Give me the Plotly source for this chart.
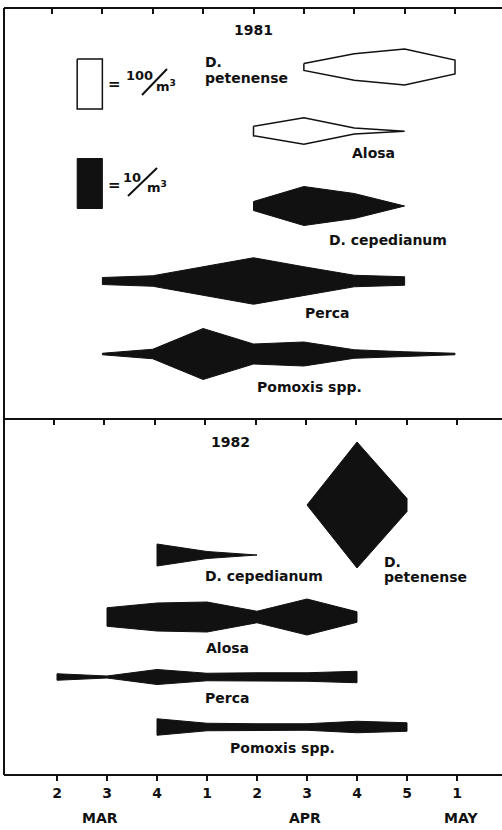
import plotly.graph_objects as go

W, H = 502, 830

# ---------------- data ----------------
# week index 0..8  ->  Mar 2, Mar 3, Mar 4, Apr 1, Apr 2, Apr 3, Apr 4, Apr 5, May 1
week_index = [0, 1, 2, 3, 4, 5, 6, 7, 8]
week_labels = ['2', '3', '4', '1', '2', '3', '4', '5', '1']
month_labels = ['MAR', 'APR', 'MAY']
month_pos = [0.86, 4.96, 8.08]

# 1981 densities (per m^3)
pet81_weeks = [5, 6, 7, 8]
pet81_vals = [14, 53, 72, 28]            # open scale
alo81_weeks = [4, 5, 6, 7]
alo81_vals = [19, 53, 12, 1]             # open scale
cep81_weeks = [4, 5, 6, 7]
cep81_vals = [1.8, 7.8, 5.0, 0]
per81_weeks = [1, 2, 3, 4, 5, 6, 7]
per81_vals = [1.4, 2.1, 5.7, 9.3, 5.7, 2.3, 1.7]
pom81_weeks = [1, 2, 3, 4, 5, 6, 7, 8]
pom81_vals = [0.3, 1.9, 10.2, 4.0, 4.8, 1.7, 0.9, 0.3]

# 1982 densities (per m^3)
pet82_weeks = [5, 6, 7]
pet82_vals = [0, 25.2, 2.6]
cep82_weeks = [2, 3, 4]
cep82_vals = [4.4, 1.4, 0]
alo82_weeks = [1, 2, 3, 4, 5, 6]
alo82_vals = [3.7, 5.6, 6.0, 2.3, 7.2, 2.1]
per82_weeks = [0, 1, 2, 3, 4, 5, 6]
per82_vals = [1.3, 0.4, 3.0, 1.5, 1.7, 1.7, 2.3]
pom82_weeks = [2, 3, 4, 5, 6, 7]
pom82_vals = [3.3, 1.5, 1.3, 1.3, 2.3, 1.7]

# legend scale boxes
legend_weeks = [0.5, 1.0]
legend_open_vals = [100, 100]
legend_fill_vals = [10, 10]

# ---------------- styling / layout ----------------
INK = '#111111'
OPEN_SCALE = 0.5    # kite width (row units) per 1/m^3, open kites
FILL_SCALE = 5.0    # kite width per 1/m^3, filled kites
FONT = 'DejaVu Sans'

LEFT, TOP, SEP, BOTTOM = 4, 8, 419, 775


def kite(weeks, vals, base, scale, filled, xaxis):
    half = [v * scale / 2 for v in vals]
    xs = list(weeks) + list(reversed(weeks)) + [weeks[0]]
    ys = [base - h for h in half] + [base + h for h in reversed(half)] + [base - half[0]]
    return go.Scatter(
        x=xs, y=ys, mode='lines', fill='toself',
        fillcolor=INK if filled else 'white',
        line=dict(color=INK, width=1 if filled else 1.5),
        xaxis=xaxis, yaxis='y', hoverinfo='skip', showlegend=False,
    )


fig = go.Figure()
# 1981 (top panel, axis x2)
fig.add_trace(kite(legend_weeks, legend_open_vals, 84, OPEN_SCALE, False, 'x2'))
fig.add_trace(kite(legend_weeks, legend_fill_vals, 183.5, FILL_SCALE, True, 'x2'))
fig.add_trace(kite(pet81_weeks, pet81_vals, 67, OPEN_SCALE, False, 'x2'))
fig.add_trace(kite(alo81_weeks, alo81_vals, 131, OPEN_SCALE, False, 'x2'))
fig.add_trace(kite(cep81_weeks, cep81_vals, 206, FILL_SCALE, True, 'x2'))
fig.add_trace(kite(per81_weeks, per81_vals, 281, FILL_SCALE, True, 'x2'))
fig.add_trace(kite(pom81_weeks, pom81_vals, 354, FILL_SCALE, True, 'x2'))
# 1982 (bottom panel, axis x)
fig.add_trace(kite(pet82_weeks, pet82_vals, 505, FILL_SCALE, True, 'x'))
fig.add_trace(kite(cep82_weeks, cep82_vals, 555, FILL_SCALE, True, 'x'))
fig.add_trace(kite(alo82_weeks, alo82_vals, 617, FILL_SCALE, True, 'x'))
fig.add_trace(kite(per82_weeks, per82_vals, 677, FILL_SCALE, True, 'x'))
fig.add_trace(kite(pom82_weeks, pom82_vals, 727, FILL_SCALE, True, 'x'))
# invisible carrier for the separator axis
fig.add_trace(go.Scatter(x=[0], y=[None], mode='markers', xaxis='x3', yaxis='y',
                         showlegend=False, hoverinfo='skip'))


def axis_range(px0, step):
    return [(LEFT - px0) / step, (W - px0) / step]


dom = [LEFT / W, 1]
common = dict(domain=dom, showgrid=False, zeroline=False, showline=True,
              linecolor=INK, linewidth=2, tickvals=week_index,
              tickcolor=INK, tickwidth=2, ticklen=5, automargin=False,
              fixedrange=True)

fig.update_layout(
    width=W, height=H, margin=dict(l=0, r=0, t=0, b=0),
    paper_bgcolor='white', plot_bgcolor='rgba(0,0,0,0)',
    showlegend=False,
    xaxis=dict(**common, range=axis_range(57, 50), anchor='free',
               position=1 - BOTTOM / H, side='bottom', ticks='outside',
               ticktext=['<b>%s</b>' % t for t in week_labels],
               tickfont=dict(family=FONT, size=14, color=INK)),
    xaxis2=dict(**common, range=axis_range(52, 50.375), anchor='free',
                position=1 - TOP / H, side='top', ticks='inside',
                overlaying='x', showticklabels=False),
    xaxis3=dict(**common, range=axis_range(54, 50.4), anchor='free',
                position=1 - SEP / H, side='top', ticks='inside',
                overlaying='x', showticklabels=False),
    yaxis=dict(domain=[1 - BOTTOM / H, 1 - TOP / H], range=[BOTTOM, TOP],
               anchor='free', position=LEFT / W, showline=True, linecolor=INK,
               linewidth=2, showgrid=False, zeroline=False, showticklabels=False,
               ticks='', automargin=False, fixedrange=True),
)


def px(x):
    return x / W


def py(y):
    return 1 - y / H


texts = [
    # (text, x, y, xanchor, size)
    ('1981', 253, 30, 'center', 14),
    ('D.', 203, 62, 'left', 14),
    ('petenense', 203, 78, 'left', 14),
    ('Alosa', 373, 153, 'center', 14),
    ('D. cepedianum', 388, 240, 'center', 14),
    ('Perca', 327, 313, 'center', 14),
    ('Pomoxis spp.', 309, 387, 'center', 14),
    ('1982', 230, 442, 'center', 14),
    ('D. cepedianum', 264, 576, 'center', 14),
    ('D.', 382, 562, 'left', 14),
    ('petenense', 382, 577, 'left', 14),
    ('Alosa', 227, 648, 'center', 14),
    ('Perca', 227, 698, 'center', 14),
    ('Pomoxis spp.', 282, 748, 'center', 14),
    # scale legend
    ('=', 114, 84, 'center', 15),
    ('100', 139, 76, 'center', 13),
    ('m<sup>3</sup>', 166, 86, 'center', 13),
    ('=', 114, 185, 'center', 15),
    ('10', 132, 177, 'center', 13),
    ('m<sup>3</sup>', 157, 187, 'center', 13),
]
for t, x, y, xa, s in texts:
    fig.add_annotation(text='<b>%s</b>' % t, x=px(x), y=py(y), xref='paper', yref='paper',
                       xanchor=xa, yanchor='middle', showarrow=False,
                       font=dict(family=FONT, size=s, color=INK))

for m, w in zip(month_labels, month_pos):
    fig.add_annotation(text='<b>%s</b>' % m, x=w, y=py(818), xref='x', yref='paper',
                       xanchor='center', yanchor='middle', showarrow=False,
                       font=dict(family=FONT, size=14, color=INK))

# slashes of the "per m^3" legend
for (x0, y0, x1, y1) in [(142, 95, 167, 69), (128, 196, 157, 168)]:
    fig.add_shape(type='line', xref='paper', yref='paper',
                  x0=px(x0), y0=py(y0), x1=px(x1), y1=py(y1),
                  line=dict(color=INK, width=2))

fig.write_html('out.html', config={'displayModeBar': False, 'staticPlot': True},
               post_script="document.body.style.margin='0';document.body.style.overflow='hidden';")
